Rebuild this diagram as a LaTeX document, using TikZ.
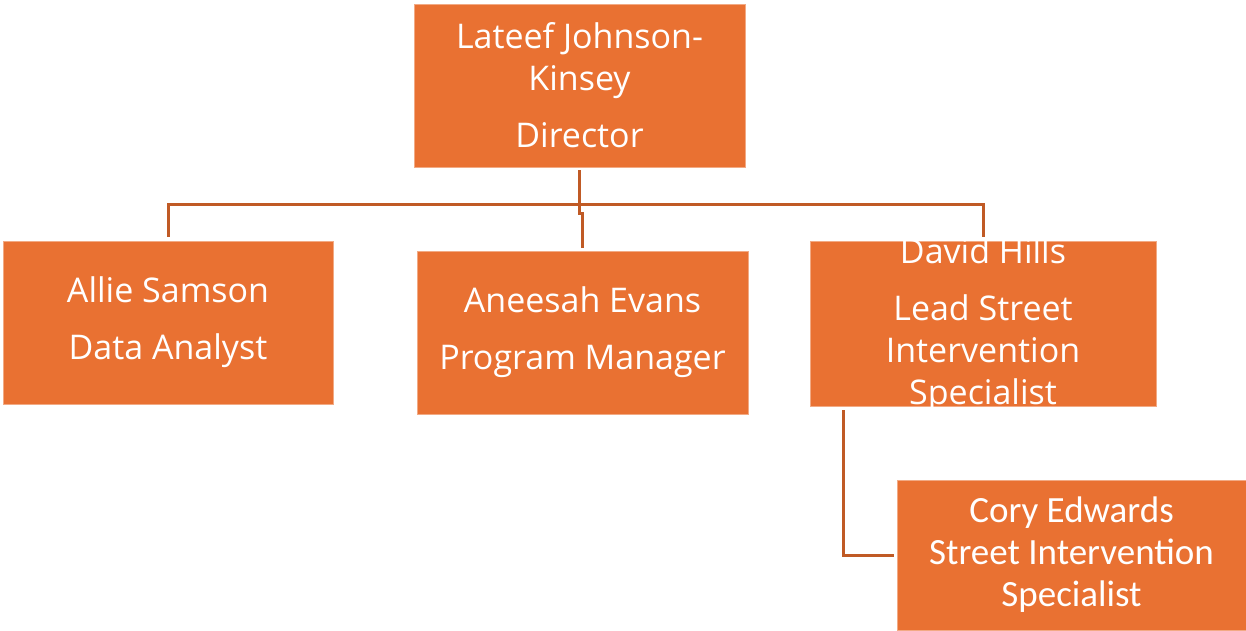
\documentclass[tikz,border=0pt]{standalone}
\usepackage{fontspec}
\setmainfont{Open Sans}
\newfontfamily\calib{Carlito}
\usetikzlibrary{positioning, calc}
\definecolor{boxorange}{HTML}{E97132}
\definecolor{lineorange}{HTML}{C05A25}

\begin{document}
\begin{tikzpicture}[x=1pt, y=-1pt,
    person/.style={rectangle, fill=boxorange, draw=boxorange!60!white, line width=0.6pt,
      text=white, align=center, inner sep=0pt,
      font=\fontsize{34}{42}\selectfont},
    link/.style={lineorange, line width=3pt}]
        \useasboundingbox (0, 0) rectangle (1246, 631);

        \node[person, minimum width=331, minimum height=163] (dir) at (579.5, 85.5) {Lateef Johnson-\\Kinsey\\[15pt]Director};
        \node[person, minimum width=330, minimum height=163] (all) at (168, 322.5) {Allie Samson\\[15pt]Data Analyst};
        \node[person, minimum width=331, minimum height=163] (ane) at (582.5, 332.5) {Aneesah Evans\\[15pt]Program Manager};
        \node[person, minimum width=346, minimum height=165, inner ysep=-12pt] (dav) at (983, 323.5) {\\[-12pt]David Hills\\[15pt]Lead Street\\Intervention\\Specialist};
        \node[person, minimum width=349, minimum height=150, font=\calib\fontsize{37}{42}\selectfont] (cor) at (1071.5, 555) {Cory Edwards\\Street Intervention\\Specialist};

        \coordinate (bar) at (579, 204);
        \draw[link] ([yshift=-3]dir.south) -- ++(0, 43) -| ([yshift=3]ane.north);
        \draw[link] ([yshift=4]all.north) |- (bar) -| ([yshift=4]dav.north);
        \draw[link] ([xshift=-140, yshift=-4]dav.south) |- ([xshift=-3]cor.west);
\end{tikzpicture}
\end{document}
